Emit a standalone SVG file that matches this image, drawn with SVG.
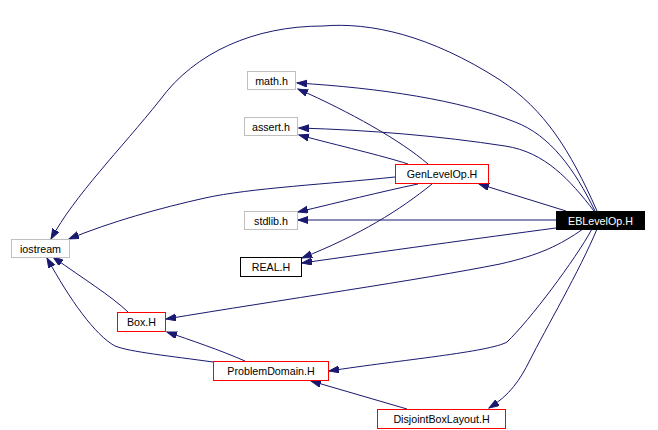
<svg xmlns="http://www.w3.org/2000/svg" width="658" height="430" viewBox="0 0 658 430">
<style>
.e{fill:none;stroke:#191970;stroke-width:1}
.n rect{fill:#fff;stroke-width:1}
.g rect{stroke:#bfbfbf}
.r rect{stroke:#ff0000}
.k rect{stroke:#000}
text{font-family:"Liberation Sans",Arial,sans-serif;font-size:10.7px;text-anchor:middle;fill:#000}
</style>
<defs>
<marker id="a" markerUnits="userSpaceOnUse" markerWidth="11" markerHeight="8" refX="10" refY="3.5" orient="auto">
<path d="M0,0 L10,3.5 L0,7 z" fill="#191970" stroke="#191970"/>
</marker>
</defs>
<rect width="658" height="430" fill="#fff"/>
<g id="connectors">
<path class="e" marker-end="url(#a)" d="M597,211 C570,150 545,110 500,80 C430,35 370,22 323,26 C255,26 195,52 160,100 C120,150 75,195 51,239"/>
<path class="e" marker-end="url(#a)" d="M595,211 C575,170 550,135 515,122 C460,100 380,88 297,83"/>
<path class="e" marker-end="url(#a)" d="M428,164 C400,140 350,112 298,89"/>
<path class="e" marker-end="url(#a)" d="M594,211 C570,180 545,152 505,146 C440,136 370,130 299,128"/>
<path class="e" marker-end="url(#a)" d="M408,164 C380,155 340,146 299,135"/>
<path class="e" marker-end="url(#a)" d="M395,177 C330,184 250,188 205,198 C160,208 110,222 69,239"/>
<path class="e" marker-end="url(#a)" d="M566,211 L479,184"/>
<path class="e" marker-end="url(#a)" d="M418,184 C380,192 340,202 298,212"/>
<path class="e" marker-end="url(#a)" d="M556,220 L298,220"/>
<path class="e" marker-end="url(#a)" d="M432,184 C400,210 360,235 302,258"/>
<path class="e" marker-end="url(#a)" d="M556,228 C480,238 380,252 302,263"/>
<path class="e" marker-end="url(#a)" d="M583,229 C560,245 540,255 500,264 C420,280 280,300 166,319"/>
<path class="e" marker-end="url(#a)" d="M592,229 C575,260 530,320 507,342 C490,352 400,360 329,371"/>
<path class="e" marker-end="url(#a)" d="M597,229 C580,270 545,330 530,360 C520,380 510,395 489,408"/>
<path class="e" marker-end="url(#a)" d="M128,312 C110,295 85,280 53,257"/>
<path class="e" marker-end="url(#a)" d="M213,362 C170,356 130,352 115,346 C95,335 70,300 47,258"/>
<path class="e" marker-end="url(#a)" d="M245,361 C220,350 190,340 167,332"/>
<path class="e" marker-end="url(#a)" d="M407,409 L311,381"/>
</g>
<g id="EBLevelOp" class="n"><rect x="556.5" y="211.5" width="88" height="18" fill="#000" stroke="#000" style="fill:#000"/><text x="600.5" y="224.5" style="fill:#fff">EBLevelOp.H</text></g>
<g id="math" class="n g"><rect x="247.5" y="71.5" width="48" height="18"/><text x="271.5" y="84.5">math.h</text></g>
<g id="assert" class="n g"><rect x="244.5" y="117.5" width="53" height="18"/><text x="271" y="130.5">assert.h</text></g>
<g id="GenLevelOp" class="n r"><rect x="395.5" y="164.5" width="93" height="19"/><text x="442" y="177.5">GenLevelOp.H</text></g>
<g id="stdlib" class="n g"><rect x="244.5" y="211.5" width="53" height="18"/><text x="271" y="224.5">stdlib.h</text></g>
<g id="REAL" class="n k"><rect x="240.5" y="257.5" width="61" height="19"/><text x="271" y="270.5">REAL.H</text></g>
<g id="iostream" class="n g"><rect x="11.5" y="239.5" width="58" height="18"/><text x="40.5" y="252.5">iostream</text></g>
<g id="Box" class="n r"><rect x="117.5" y="312.5" width="48" height="19"/><text x="141.5" y="325.5">Box.H</text></g>
<g id="ProblemDomain" class="n r"><rect x="213.5" y="361.5" width="115" height="19"/><text x="271" y="374.5">ProblemDomain.H</text></g>
<g id="DisjointBoxLayout" class="n r"><rect x="377.5" y="409.5" width="128" height="19"/><text x="441.5" y="422.5">DisjointBoxLayout.H</text></g>
</svg>
